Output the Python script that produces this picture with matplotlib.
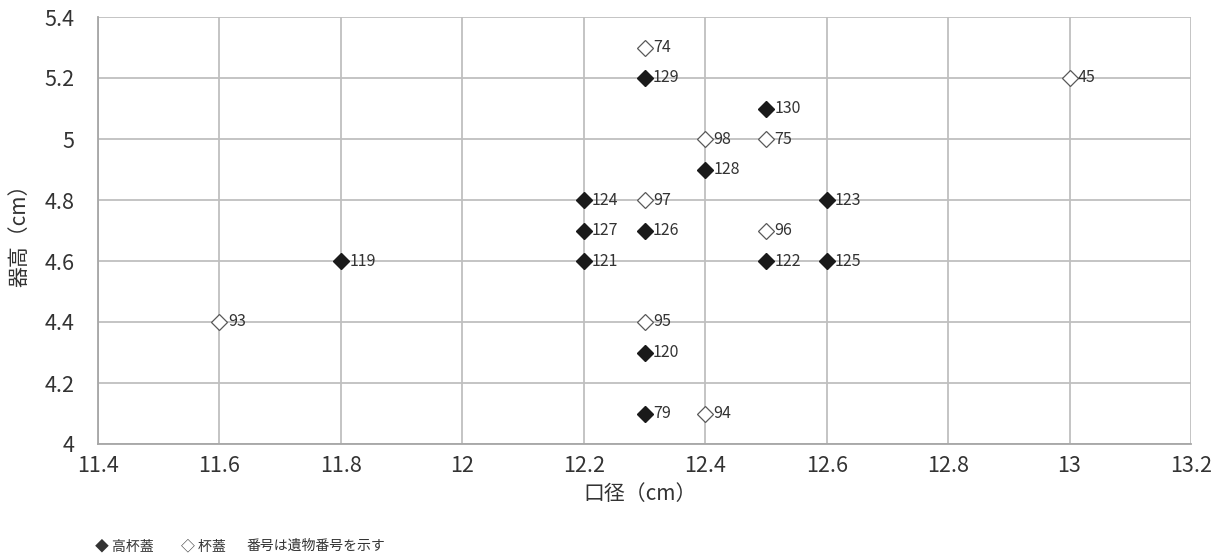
import matplotlib
matplotlib.use("Agg")
import matplotlib.pyplot as plt

plt.rcParams['font.family'] = ['Noto Sans CJK JP', 'DejaVu Sans']

# 高杯蓋 (filled)
filled_x = [12.3, 12.5, 12.4, 12.2, 12.6, 12.2, 12.3, 11.8, 12.2, 12.5, 12.6, 12.3, 12.3]
filled_y = [5.2, 5.1, 4.9, 4.8, 4.8, 4.7, 4.7, 4.6, 4.6, 4.6, 4.6, 4.3, 4.1]
filled_labels = ["129", "130", "128", "124", "123", "127", "126", "119", "121", "122", "125", "120", "79"]

# 杯蓋 (open)
open_x = [12.3, 13.0, 12.4, 12.5, 12.3, 12.5, 11.6, 12.3, 12.4]
open_y = [5.3, 5.2, 5.0, 5.0, 4.8, 4.7, 4.4, 4.4, 4.1]
open_labels = ["74", "45", "98", "75", "97", "96", "93", "95", "94"]

x_ticks = [11.4, 11.6, 11.8, 12.0, 12.2, 12.4, 12.6, 12.8, 13.0, 13.2]
x_tick_labels = ["11.4", "11.6", "11.8", "12", "12.2", "12.4", "12.6", "12.8", "13", "13.2"]
y_ticks = [4.0, 4.2, 4.4, 4.6, 4.8, 5.0, 5.2, 5.4]
y_tick_labels = ["4", "4.2", "4.4", "4.6", "4.8", "5", "5.2", "5.4"]

W, H = 1221, 556
fig = plt.figure(figsize=(W / 100, H / 100), dpi=100)
ax = fig.add_axes([98 / W, 1 - 444 / H, (1191 - 98) / W, (444 - 17) / H])

grid_c = '#bfbfbf'
txt_c = '#333333'
ax.set_xlim(11.4, 13.2)
ax.set_ylim(4.0, 5.4)
ax.set_xticks(x_ticks)
ax.set_xticklabels(x_tick_labels)
ax.set_yticks(y_ticks)
ax.set_yticklabels(y_tick_labels)
ax.grid(True, color=grid_c, linewidth=1.3)
ax.set_axisbelow(True)
for s in ['top', 'right']:
    ax.spines[s].set_visible(False)
for s in ['left', 'bottom']:
    ax.spines[s].set_color('#a6a6a6')
    ax.spines[s].set_linewidth(1.3)
ax.tick_params(length=0, labelsize=15.5, labelcolor=txt_c)
ax.tick_params(axis='y', pad=17)
ax.tick_params(axis='x', pad=8)

ax.plot(filled_x, filled_y, linestyle='none', marker='D', markersize=8,
        markerfacecolor='#1a1a1a', markeredgecolor='#1a1a1a', clip_on=False, zorder=3)
ax.plot(open_x, open_y, linestyle='none', marker='D', markersize=8,
        markerfacecolor='white', markeredgecolor='#595959', markeredgewidth=0.9,
        clip_on=False, zorder=3)

for x, y, l in zip(filled_x, filled_y, filled_labels):
    ax.annotate(l, (x, y), xytext=(6, 0), textcoords='offset points',
                va='center', ha='left', fontsize=11.5, color=txt_c)
for x, y, l in zip(open_x, open_y, open_labels):
    ax.annotate(l, (x, y), xytext=(6, 0), textcoords='offset points',
                va='center', ha='left', fontsize=11.5, color=txt_c)

fig.text(640 / W, 1 - 494 / H, '口径（cm）', fontsize=15, color=txt_c,
         ha='center', va='center')
fig.text(19 / W, 1 - 230 / H, '器高（cm）', fontsize=15, color=txt_c,
         ha='center', va='center', rotation=90)

fig.text(95 / W, 1 - 546 / H, '◆ 高杯蓋', fontsize=10, color=txt_c, va='center', ha='left')
fig.text(181 / W, 1 - 546 / H, '◇ 杯蓋', fontsize=10, color=txt_c, va='center', ha='left')
fig.text(246 / W, 1 - 546 / H, '番号は遺物番号を示す', fontsize=10, color=txt_c, va='center', ha='left')

fig.savefig('out.png', dpi=100)
